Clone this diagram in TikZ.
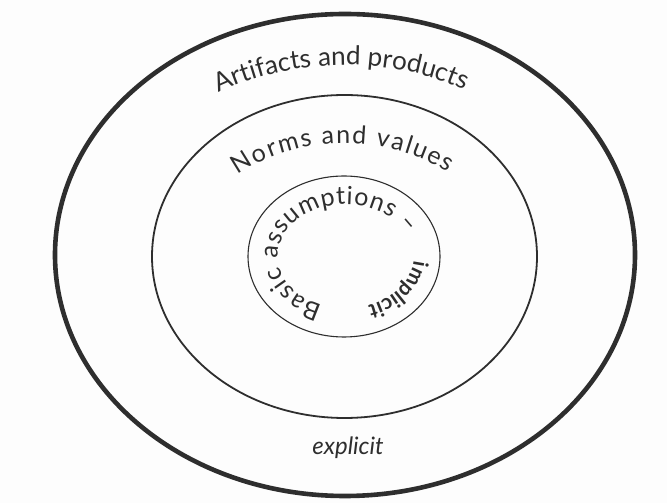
\documentclass[tikz,border=0pt]{standalone}
\usepackage{fontspec}
\setmainfont{Lato}
\usetikzlibrary{decorations.text}
\definecolor{ink}{HTML}{2E2E2E}
\definecolor{paper}{HTML}{FDFDFD}
\begin{document}
\begin{tikzpicture}[x=1pt,y=1pt,
  ring/.style={draw=ink},
  arctext/.style={decorate, decoration={text along path,
      text align=center, text color=ink, text={#1}}},
  fittext/.style={decorate, decoration={text along path,
      text align=fit to path, text color=ink, text={#1}}}]
\fill[paper] (0,0) rectangle (667,503);
\useasboundingbox (0,0) rectangle (667,503);

% three nested layers
\draw[ring, line width=4.6pt] (345,248) ellipse [x radius=290pt, y radius=241pt];
\draw[ring, line width=1.8pt] (344.5,246.5) ellipse [x radius=192.5pt, y radius=161.5pt];
\draw[ring, line width=1.1pt] (344,246.5) ellipse [x radius=96pt, y radius=80.5pt];

% curved labels
\path[arctext={|\fontsize{26}{26}\selectfont|Artifacts and products}]
  ([shift={(345,247)}]125:243pt and 191pt)
  arc[start angle=125, end angle=57, x radius=243pt, y radius=191pt];
\path[fittext={|\fontsize{25}{25}\selectfont|Norms and values}]
  ([shift={(345,246.5)}]134:154pt and 113pt)
  arc[start angle=134, end angle=48, x radius=154pt, y radius=113pt];
\path[fittext={|\fontsize{25}{25}\selectfont|Basic assumptions –}]
  ([shift={(346,246.5)}]250:68pt and 52pt)
  arc[start angle=250, end angle=26, x radius=68pt, y radius=52pt];
\path[arctext={|\fontsize{21}{21}\selectfont\bfseries|implicit}]
  ([shift={(346,246.5)}]-4:68pt and 52pt)
  arc[start angle=-4, end angle=-72, x radius=68pt, y radius=52pt];

\node[text=ink, font=\fontsize{24}{24}\selectfont\itshape] (explicit) at (348,55) {explicit};
\end{tikzpicture}
\end{document}
